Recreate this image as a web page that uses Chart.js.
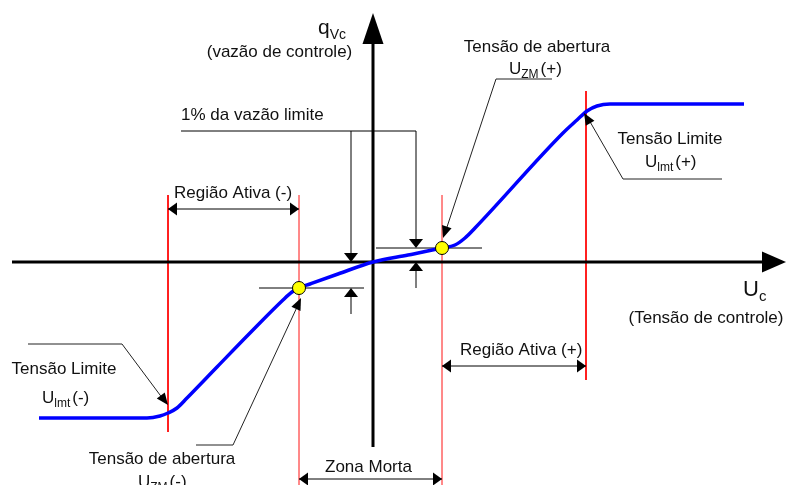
<!DOCTYPE html>
<html>
<head>
<meta charset="utf-8">
<script src="https://cdn.jsdelivr.net/npm/chart.js@4"></script>
<style>
  body { margin: 0; background: #fff; }
  #wrap { width: 786px; height: 485px; position: relative; }
</style>
</head>
<body>
<div id="wrap"><canvas id="valve-chart"></canvas></div>
<script>
// characteristic curve: control voltage Uc vs control flow qVc
var curveU = [-33.4, -22.6, -21.3, -20.5, -19.6, -18.6, -15.6, -12.3, -9.0, -8.1, -7.4, -6.3, -3.5, 0, 3.5, 6.9, 8.2, 9.2, 10.2, 19.0, 20.4, 21.4, 22.4, 23.7, 37.1];
var curveQ = [-15.6, -15.6, -15.4, -15.1, -14.6, -13.6, -10.5, -7.1, -3.8, -3.0, -2.6, -2.2, -1.2, 0, 0.7, 1.4, 1.7, 2.4, 3.4, 12.9, 14.2, 15.1, 15.6, 15.8, 15.8];

// opening voltages UZM(-) / UZM(+) and their flows
var openU = [-7.4, 6.9];
var openQ = [-2.6, 1.4];

// limit voltages Ulmt(-) / Ulmt(+)
var limitU = [-20.5, 21.3];

var FONT = '"Liberation Sans", Arial, sans-serif';

function seg(x1, y1, x2, y2) {
    return [{x: x1, y: y1}, {x: x2, y: y2}];
}

function vline(u, top, bottom, color) {
    return {
        data: seg(u, top, u, bottom),
        showLine: true, borderColor: color, borderWidth: 1,
        pointRadius: 0, order: 5
    };
}

var curvePts = curveU.map(function (u, i) { return {x: u, y: curveQ[i]}; });
var dotPts = openU.map(function (u, i) { return {x: u, y: openQ[i]}; });

// drawing helpers bound to the chart scales
function tools(chart) {
    var ctx = chart.ctx;
    var X = function (v) { return chart.scales.x.getPixelForValue(v); };
    var Y = function (v) { return chart.scales.y.getPixelForValue(v); };
    var t = {};

    t.path = function (pts, w, color) {
        ctx.save();
        ctx.strokeStyle = color || '#000';
        ctx.lineWidth = w || 1;
        ctx.beginPath();
        pts.forEach(function (p, i) {
            if (i === 0) ctx.moveTo(X(p[0]), Y(p[1]));
            else ctx.lineTo(X(p[0]), Y(p[1]));
        });
        ctx.stroke();
        ctx.restore();
    };

    // filled arrow head, tip at (tx,ty) pointing away from (fx,fy)
    t.head = function (tx, ty, fx, fy, len, half) {
        var px = X(tx), py = Y(ty);
        var dx = px - X(fx), dy = py - Y(fy);
        var d = Math.sqrt(dx * dx + dy * dy);
        dx /= d; dy /= d;
        var bx = px - dx * len, by = py - dy * len;
        ctx.save();
        ctx.fillStyle = '#000';
        ctx.beginPath();
        ctx.moveTo(px, py);
        ctx.lineTo(bx - dy * half, by + dx * half);
        ctx.lineTo(bx + dy * half, by - dx * half);
        ctx.closePath();
        ctx.fill();
        ctx.restore();
    };

    t.span = function (x1, x2, y) {
        t.path([[x1, y], [x2, y]], 1);
        t.head(x1, y, x2, y, 9, 6.5);
        t.head(x2, y, x1, y, 9, 6.5);
    };

    t.text = function (str, x, y, size, align) {
        ctx.save();
        ctx.fillStyle = '#111';
        ctx.font = size + 'px ' + FONT;
        ctx.textAlign = align || 'left';
        ctx.textBaseline = 'middle';
        ctx.fillText(str, X(x), Y(y));
        ctx.restore();
    };

    // base letter + subscript + trailing text
    t.sub = function (base, sub, rest, x, y, size, subSize) {
        ctx.save();
        ctx.fillStyle = '#111';
        ctx.textBaseline = 'middle';
        var px = X(x), py = Y(y);
        ctx.font = size + 'px ' + FONT;
        ctx.fillText(base, px, py);
        px += ctx.measureText(base).width;
        ctx.font = subSize + 'px ' + FONT;
        ctx.fillText(sub, px, py + size * 0.32);
        px += ctx.measureText(sub).width;
        if (rest) {
            ctx.font = size + 'px ' + FONT;
            ctx.fillText(rest, px + 2, py);
        }
        ctx.restore();
    };
    return t;
}

var annotations = {
    id: 'annotations',
    beforeDatasetsDraw: function (chart) {
        var t = tools(chart);
        // short ticks through the opening points (under the dots)
        t.path([[-11.4, openQ[0]], [-0.9, openQ[0]]], 1);
        t.path([[0.3, openQ[1]], [10.9, openQ[1]]], 1);
    },
    afterDatasetsDraw: function (chart) {
        var t = tools(chart);

        // axis arrow heads
        t.head(41.3, 0, 0, 0, 24, 10.5);
        t.head(0, 24.9, 0, 0, 31, 10.5);

        // axis titles
        t.sub('q', 'Vc', '', -5.5, 23.4, 21, 14);
        t.text('(vazão de controle)', -9.35, 21.0, 17, 'center');
        t.sub('U', 'c', '', 37.0, -2.8, 22, 15);
        t.text('(Tensão de controle)', 33.3, -5.6, 17, 'center');

        // 1% of limit flow
        t.text('1% da vazão limite', -19.2, 14.7, 17);
        t.path([[-19.2, 13.1], [4.3, 13.1]], 1);
        t.path([[-2.2, 13.1], [-2.2, 0.6]], 1);
        t.head(-2.2, 0, -2.2, 5, 9, 7);
        t.path([[4.3, 13.1], [4.3, 2.0]], 1);
        t.head(4.3, openQ[1], 4.3, 5, 9, 7);
        t.path([[-2.2, -5.2], [-2.2, -3.2]], 1);
        t.head(-2.2, openQ[0], -2.2, -5, 9, 7);
        t.path([[4.3, -2.6], [4.3, -0.6]], 1);
        t.head(4.3, 0, 4.3, -3, 9, 7);

        // regions
        t.text('Região Ativa (-)', -19.9, 6.9, 17);
        t.span(limitU[0], openU[0], 5.3);
        t.text('Região Ativa (+)', 8.7, -8.8, 17);
        t.span(openU[1], limitU[1], -10.4);
        t.text('Zona Morta', -4.8, -20.5, 17);
        t.span(openU[0], openU[1], -21.7);

        // opening voltage (+)
        t.text('Tensão de abertura', 16.4, 21.5, 17, 'center');
        t.sub('U', 'ZM', '(+)', 13.6, 19.3, 17, 12);
        t.path([[17.9, 18.3], [12.3, 18.3], [7.3, 3.2]], 1, '#222');
        t.head(7.0, 2.4, 12.3, 18.3, 12, 5);

        // limit voltage (+)
        t.text('Tensão Limite', 29.7, 12.3, 17, 'center');
        t.sub('U', 'lmt', '(+)', 27.2, 10.0, 17, 12);
        t.path([[34.9, 8.3], [25.0, 8.3], [21.6, 14.2]], 1, '#222');
        t.head(21.1, 14.9, 25.0, 8.3, 12, 5);

        // limit voltage (-)
        t.text('Tensão Limite', -30.9, -10.7, 17, 'center');
        t.sub('U', 'lmt', '(-)', -33.1, -13.6, 17, 12);
        t.path([[-34.5, -8.2], [-25.1, -8.2], [-21.0, -13.7]], 1, '#222');
        t.head(-20.5, -14.3, -25.1, -8.2, 12, 5);

        // opening voltage (-)
        t.text('Tensão de abertura', -21.1, -19.7, 17, 'center');
        t.sub('U', 'ZM', '(-)', -23.5, -22.0, 17, 12);
        t.path([[-17.7, -18.3], [-14.0, -18.3], [-7.5, -4.3]], 1, '#222');
        t.head(-7.2, -3.6, -14.0, -18.3, 12, 5);
    }
};

var ctx = document.getElementById('valve-chart').getContext('2d');
var valveChart = new Chart(ctx, {
    type: 'scatter',
    data: {
        datasets: [
            {
                // opening points
                data: dotPts,
                pointRadius: 6.5, pointBackgroundColor: '#ffff00',
                pointBorderColor: '#000', pointBorderWidth: 1,
                order: 0
            },
            {
                data: curvePts,
                showLine: true, borderColor: '#0000ff', borderWidth: 3.5,
                cubicInterpolationMode: 'monotone',
                pointRadius: 0, order: 1
            },
            {
                // Uc axis
                data: seg(-36.1, 0, 39.2, 0),
                showLine: true, borderColor: '#000', borderWidth: 3,
                pointRadius: 0, order: 2
            },
            {
                // qVc axis
                data: seg(0, -18.5, 0, 22.0),
                showLine: true, borderColor: '#000', borderWidth: 3,
                pointRadius: 0, order: 2
            },
            vline(limitU[0], 6.7, -17.0, '#ff0000'),
            vline(openU[0], 6.7, -22.3, '#ff7878'),
            vline(openU[1], 6.7, -22.3, '#ff7878'),
            vline(limitU[1], 17.1, -11.8, '#ff0000')
        ]
    },
    options: {
        responsive: true,
        maintainAspectRatio: false,
        animation: false,
        layout: { padding: 0, autoPadding: false },
        plugins: {
            legend: { display: false },
            tooltip: { enabled: false }
        },
        scales: {
            x: { type: 'linear', min: -37.3, max: 41.3, display: false },
            y: { type: 'linear', min: -22.3, max: 26.2, display: false }
        }
    },
    plugins: [annotations]
});
</script>
</body>
</html>
